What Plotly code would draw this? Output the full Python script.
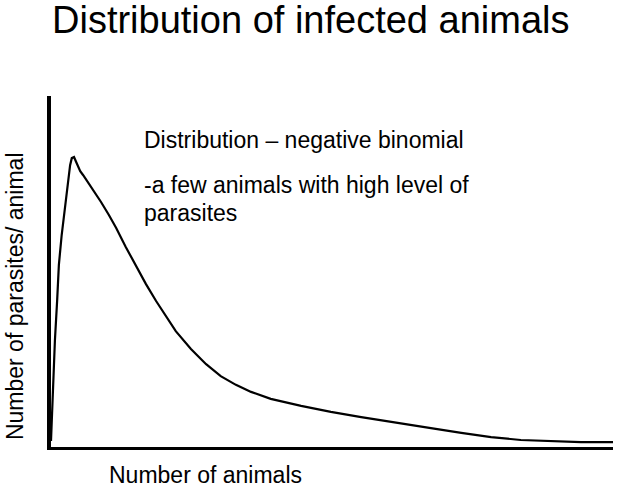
import plotly.graph_objects as go

# Curve (arbitrary units, x: 0-100, y: 0-100)
animals = [0.0, 0.2, 0.4, 0.7, 1.1, 1.4, 1.9, 2.5, 3.0, 3.4, 3.7, 4.1, 4.4, 4.8, 5.2,
           5.7, 6.4, 7.1, 8.0, 8.9, 10.3, 11.6, 13.3, 15.1, 16.9, 18.7, 20.5, 22.2,
           24.9, 27.6, 30.2, 32.9, 35.6, 39.1, 44.5, 49.8, 55.2, 62.3, 67.6, 73.0,
           78.3, 83.6, 89.0, 94.3, 100.0]
parasites = [1.7, 10.5, 19.1, 30.5, 41.9, 51.9, 60.4, 68.9, 76.1, 80.3, 82.3, 82.6, 81.5,
             79.8, 78.6, 77.5, 75.8, 74.1, 72.1, 69.8, 66.1, 62.4, 57.0, 51.6, 46.4,
             41.6, 37.0, 33.0, 27.9, 23.6, 20.2, 17.7, 15.7, 13.7, 11.7, 10.0, 8.5,
             6.8, 5.4, 4.0, 2.8, 2.0, 1.6, 1.4, 1.4]

title_text = "Distribution of infected animals"
x_label = "Number of animals"
y_label = "Number of parasites/ animal"
note1 = "Distribution – negative binomial"
note2a = "-a few animals with high level of"
note2b = "parasites"

FONT = "Liberation Sans, Arial, sans-serif"

fig = go.Figure()
fig.add_trace(go.Scatter(x=animals, y=parasites, mode="lines",
                         line=dict(color="black", width=2.2),
                         hoverinfo="skip", showlegend=False))


def note(text, x, y, size=23, **kw):
    return dict(text=text, xref="paper", yref="paper", x=x, y=y,
                xanchor=kw.pop("xanchor", "left"), yanchor="middle",
                showarrow=False, font=dict(size=size, family=FONT, color="black"), **kw)


fig.update_layout(
    width=624, height=487,
    margin=dict(l=51, r=11, t=96, b=40),
    paper_bgcolor="white", plot_bgcolor="white",
    font=dict(family=FONT, color="black"),
    hovermode=False,
    title=dict(text=title_text, font=dict(size=38, family=FONT, color="black"),
               x=0.498, xref="container", xanchor="center",
               y=0.959, yref="container", yanchor="middle"),
    xaxis=dict(range=[0, 100], showline=True, linecolor="black", linewidth=3,
               showgrid=False, zeroline=False, showticklabels=False, ticks=""),
    yaxis=dict(range=[0, 100], showline=True, linecolor="black", linewidth=3.5,
               showgrid=False, zeroline=False, showticklabels=False, ticks=""),
    annotations=[
        note(note1, 0.162, 0.875),
        note(note2a, 0.162, 0.746),
        note(note2b, 0.162, 0.667),
        note(x_label, 0.100, -0.080),
        note(y_label, -0.064, 0.430, xanchor="center", textangle=-90),
    ],
)

fig.write_html("out.html", config={"displayModeBar": False},
               post_script="document.body.style.margin='0px';")
